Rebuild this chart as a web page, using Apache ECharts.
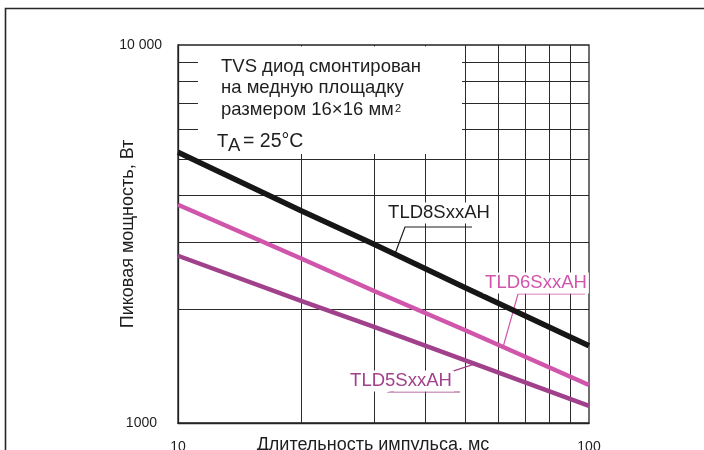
<!DOCTYPE html>
<html>
<head>
<meta charset="utf-8">
<script src="https://cdn.jsdelivr.net/npm/echarts@6/dist/echarts.min.js"></script>
<style>
html, body { margin: 0; padding: 0; background: #fff; }
#chart { width: 704px; height: 450px; }
</style>
</head>
<body>
<div id="chart"></div>
<script>
// Pulse duration, ms
const pulseMs = [10, 20, 30, 50, 100];
// Peak pulse power, W
const tld8 = [5200, 3640, 2970, 2280, 1600];
const tld6 = [3780, 2720, 2235, 1760, 1260];
const tld5 = [2770, 2100, 1795, 1465, 1110];
const seriesNames = ['TLD8SxxAH', 'TLD6SxxAH', 'TLD5SxxAH'];
// Decade sub-grid lines
const powerGrid = [2000, 3000, 4000, 5000, 6000, 7000, 8000, 9000];
const timeGrid = [20, 30, 40, 50, 60, 70, 80, 90];
// Axis tick labels
const yTickLabels = { 1000: '1000', 10000: '10 000' };
const xTickLabels = { 10: '10', 100: '100' };
// Where each leader line meets its curve (pulse duration, ms)
const leaderAt = [33.7, 61.8, 52.8];

const FONT = '"Liberation Sans", Arial, sans-serif';
const INK = '#1e1e1e';
const colors = ['#161616', '#d056ac', '#a2418b'];
const widths = [5.5, 4.5, 4.5];

const chart = echarts.init(document.getElementById('chart'), null, { renderer: 'canvas' });

function pairs(vals) { return pulseMs.map((t, i) => [t, vals[i]]); }

// log-log interpolation along a curve
function valueAt(vals, t) {
  const lt = Math.log10(t);
  for (let i = 0; i < pulseMs.length - 1; i++) {
    const a = Math.log10(pulseMs[i]), b = Math.log10(pulseMs[i + 1]);
    if (lt >= a && lt <= b) {
      const f = (lt - a) / (b - a);
      return Math.pow(10, Math.log10(vals[i]) + f * (Math.log10(vals[i + 1]) - Math.log10(vals[i])));
    }
  }
  return vals[vals.length - 1];
}

const gridLines = powerGrid.map(v => ({ yAxis: v })).concat(timeGrid.map(v => ({ xAxis: v })));

chart.setOption({
  animation: false,
  backgroundColor: '#fff',
  grid: {
    left: 178, top: 45, right: 115, bottom: 27,
    containLabel: false, outerBoundsMode: 'none',
    show: true, borderColor: '#222', borderWidth: 1.3, backgroundColor: 'transparent'
  },
  xAxis: {
    type: 'log', logBase: 10, min: 10, max: 100,
    name: 'Длительность импульса, мс', nameLocation: 'middle', nameGap: 13,
    nameMoveOverlap: false,
    nameTextStyle: { fontFamily: FONT, fontSize: 18, color: INK, padding: [0, 21, 0, 0] },
    axisLine: { show: true, lineStyle: { color: '#222', width: 1.3 } },
    axisTick: { show: false },
    splitLine: { show: false },
    axisLabel: {
      fontFamily: FONT, fontSize: 14, color: INK, margin: 17,
      formatter: v => xTickLabels[Math.round(v)] || ''
    }
  },
  yAxis: {
    type: 'log', logBase: 10, min: 1000, max: 10000,
    name: 'Пиковая мощность, Вт', nameLocation: 'middle', nameGap: 41,
    nameMoveOverlap: false,
    nameTextStyle: { fontFamily: FONT, fontSize: 18, color: INK },
    axisLine: { show: true, lineStyle: { color: '#222', width: 1.3 } },
    axisTick: { show: false },
    splitLine: { show: false },
    axisLabel: {
      fontFamily: FONT, fontSize: 14, color: INK, margin: 16,
      formatter: v => {
        const r = Math.round(v);
        return r === 1000 ? '{s|' + yTickLabels[r] + '}' : (yTickLabels[r] || '');
      },
      rich: { s: { fontFamily: FONT, fontSize: 14, color: INK, padding: [0, 5, 0, 0] } }
    }
  },
  series: [
    {
      type: 'line', name: 'grid', data: [], z: 0, silent: true,
      markLine: {
        z: 0, silent: true, symbol: 'none', label: { show: false }, animation: false,
        lineStyle: { color: '#2a2a2a', width: 1, type: 'solid' },
        emphasis: { disabled: true },
        data: gridLines
      }
    },
    { type: 'line', name: seriesNames[2], data: pairs(tld5), showSymbol: false, z: 2,
      lineStyle: { color: colors[2], width: widths[2], cap: 'butt' } },
    { type: 'line', name: seriesNames[1], data: pairs(tld6), showSymbol: false, z: 2,
      lineStyle: { color: colors[1], width: widths[1], cap: 'butt' } },
    { type: 'line', name: seriesNames[0], data: pairs(tld8), showSymbol: false, z: 2,
      lineStyle: { color: colors[0], width: widths[0], cap: 'butt' } }
  ]
});

// Annotations: conditions box, curve labels and their leader lines
const curves = [tld8, tld6, tld5];
const labelBoxes = [
  { cx: 439, cy: 213, ux0: 405, ux1: 472, uy: 227 },
  { cx: 536, cy: 283, ux0: 518, ux1: 585, uy: 294 },
  { cx: 401, cy: 381, ux0: 390, ux1: 460, uy: 392 }
];
const elements = [];

// white panel behind the notes
elements.push({
  type: 'rect', z: 1, silent: true,
  shape: { x: 198, y: 46.5, width: 264, height: 107.5 },
  style: { fill: '#fff' }
});
const noteLines = ['TVS диод смонтирован', 'на медную площадку', 'размером 16×16 мм'];
noteLines.forEach((s, i) => {
  elements.push({
    type: 'text', z: 4, silent: true, x: 221, y: 57 + i * 21.8,
    style: { text: s, font: '18.5px ' + FONT, fill: INK, verticalAlign: 'top' }
  });
});
elements.push({
  type: 'text', z: 4, silent: true, x: 395, y: 103,
  style: { text: '2', font: '11px ' + FONT, fill: INK, verticalAlign: 'top' }
});
elements.push({
  type: 'text', z: 4, silent: true, x: 217, y: 132,
  style: { text: 'T', font: '18.5px ' + FONT, fill: INK, verticalAlign: 'top' }
});
elements.push({
  type: 'text', z: 4, silent: true, x: 228, y: 136.5,
  style: { text: 'A', font: '18.5px ' + FONT, fill: INK, verticalAlign: 'top' }
});
elements.push({
  type: 'text', z: 4, silent: true, x: 243, y: 131.5,
  style: { text: '= 25°C', font: '19.5px ' + FONT, fill: INK, verticalAlign: 'top' }
});

labelBoxes.forEach((b, i) => {
  const tAnchor = leaderAt[i];
  const p = chart.convertToPixel({ gridIndex: 0 }, [tAnchor, valueAt(curves[i], tAnchor)]);
  const lineColor = i === 0 ? '#1e1e1e' : colors[i];
  elements.push({
    type: 'polyline', z: 1, silent: true,
    shape: { points: [[b.ux1, b.uy], [b.ux0, b.uy], [p[0], p[1]]] },
    style: { stroke: lineColor, lineWidth: 1.2, fill: null }
  });
  elements.push({
    type: 'text', z: 4, silent: true, x: b.cx, y: b.cy,
    style: {
      text: seriesNames[i], font: '18.5px ' + FONT, fill: i === 0 ? INK : colors[i],
      align: 'center', verticalAlign: 'middle',
      backgroundColor: '#fff', padding: [1, 2, 1, 2]
    }
  });
});

// outer frame
elements.push({
  type: 'polyline', z: 5, silent: true,
  shape: { points: [[5.5, 450], [5.5, 8.5], [704, 8.5]] },
  style: { stroke: '#262626', lineWidth: 1.6, fill: null }
});

chart.setOption({ graphic: { elements: elements } });
</script>
</body>
</html>
